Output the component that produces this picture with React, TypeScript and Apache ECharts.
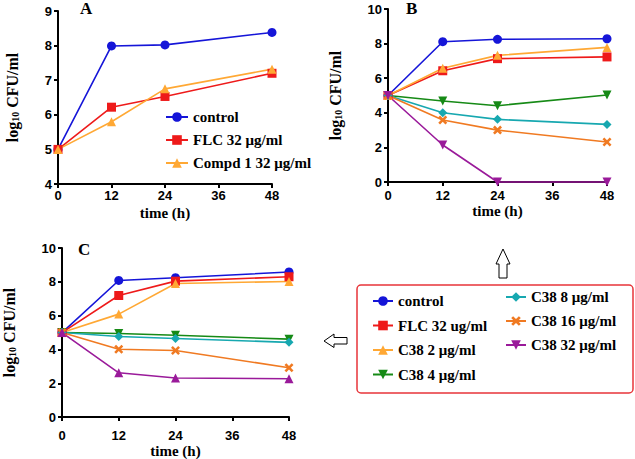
import React, { useEffect, useRef } from "react";
import * as echarts from "echarts";

const HOURS = [0, 12, 24, 48];
const X_TICKS = [0, 12, 24, 36, 48];

// Panel A
const A_CONTROL = [5.0, 7.99, 8.02, 8.38];
const A_FLC = [5.0, 6.22, 6.53, 7.2];
const A_COMPD1 = [5.0, 5.8, 6.75, 7.32];

// Panel B
const B_CONTROL = [5.0, 8.11, 8.25, 8.28];
const B_FLC = [5.0, 6.43, 7.13, 7.23];
const B_C38_2 = [5.0, 6.57, 7.32, 7.78];
const B_C38_4 = [5.0, 4.68, 4.41, 5.03];
const B_C38_8 = [5.0, 4.0, 3.62, 3.33];
const B_C38_16 = [5.0, 3.58, 3.0, 2.31];
const B_C38_32 = [5.0, 2.14, 0.0, 0.0];

// Panel C
const C_CONTROL = [5.0, 8.08, 8.24, 8.58];
const C_FLC = [5.0, 7.19, 8.04, 8.3];
const C_C38_2 = [5.0, 6.09, 7.9, 8.02];
const C_C38_4 = [5.0, 4.94, 4.84, 4.61];
const C_C38_8 = [5.0, 4.77, 4.65, 4.42];
const C_C38_16 = [5.0, 4.01, 3.94, 2.92];
const C_C38_32 = [5.0, 2.62, 2.31, 2.27];

const N_CONTROL = "control";
const N_FLC = "FLC 32 μg/ml";
const N_COMPD1 = "Compd 1 32 μg/ml";
const N_C2 = "C38 2 μg/ml";
const N_C4 = "C38 4 μg/ml";
const N_C8 = "C38 8 μg/ml";
const N_C16 = "C38 16 μg/ml";
const N_C32 = "C38 32 μg/ml";

const SERIF = "'Liberation Serif', 'Times New Roman', serif";
const SANS = "'Liberation Sans', Arial, sans-serif";

const COLORS: Record<string, string> = {
  [N_CONTROL]: "#1515d8",
  [N_FLC]: "#ee1a1a",
  [N_COMPD1]: "#ffa834",
  [N_C2]: "#ffa834",
  [N_C4]: "#168a16",
  [N_C8]: "#17a8b0",
  [N_C16]: "#f07a22",
  [N_C32]: "#9a1a9a",
};

const DOWN_TRI = "path://M0,0 L10,0 L5,9 Z";
const CROSS =
  "path://M0,2 L2,0 L5,3 L8,0 L10,2 L7,5 L10,8 L8,10 L5,7 L2,10 L0,8 L3,5 Z";

const SYMBOLS: Record<string, string> = {
  [N_CONTROL]: "circle",
  [N_FLC]: "rect",
  [N_COMPD1]: "triangle",
  [N_C2]: "triangle",
  [N_C4]: DOWN_TRI,
  [N_C8]: "diamond",
  [N_C16]: CROSS,
  [N_C32]: "triangle",
};

function pairs(vals: number[]) {
  return HOURS.map((h, i) => [h, vals[i]]);
}

function mkSeries(name: string, vals: number[], idx: number, symbol?: string) {
  return {
    type: "line",
    name,
    xAxisIndex: idx,
    yAxisIndex: idx,
    data: pairs(vals),
    symbol: symbol || SYMBOLS[name],
    symbolSize: 9,
    clip: false,
    color: COLORS[name],
    lineStyle: { width: 1.6, color: COLORS[name] },
    itemStyle: { color: COLORS[name] },
  };
}

const axisLineStyle = { color: "#000", width: 2 };

function xAxis(idx: number, labelMargin: number, nameGap: number) {
  return {
    type: "value",
    gridIndex: idx,
    min: 0,
    max: 48,
    interval: 12,
    splitLine: { show: false },
    axisLine: { show: true, lineStyle: axisLineStyle },
    axisTick: { show: true, length: 4, lineStyle: axisLineStyle },
    axisLabel: {
      color: "#000",
      fontFamily: SANS,
      fontWeight: "bold",
      fontSize: 13,
      margin: labelMargin,
      customValues: X_TICKS,
    },
    name: "time (h)",
    nameLocation: "middle",
    nameGap,
    nameTextStyle: {
      color: "#000",
      fontFamily: SERIF,
      fontWeight: "bold",
      fontSize: 15,
    },
  };
}

function yAxis(idx: number, min: number, max: number, interval: number, nameGap: number) {
  return {
    type: "value",
    gridIndex: idx,
    min,
    max,
    interval,
    splitLine: { show: false },
    axisLine: { show: true, onZero: false, lineStyle: axisLineStyle },
    axisTick: { show: true, length: 4, lineStyle: axisLineStyle },
    axisLabel: {
      color: "#000",
      fontFamily: SANS,
      fontWeight: "bold",
      fontSize: 13,
      margin: 6,
    },
    name: "log{sub|10} CFU/ml",
    nameLocation: "middle",
    nameGap,
    nameTextStyle: {
      color: "#000",
      fontFamily: SERIF,
      fontWeight: "bold",
      fontSize: 16,
      rich: {
        sub: {
          fontFamily: SERIF,
          fontWeight: "bold",
          fontSize: 10,
          verticalAlign: "bottom",
          color: "#000",
        },
      },
    },
  };
}

const legendText = {
  color: "#000",
  fontFamily: SERIF,
  fontWeight: "bold",
  fontSize: 15,
  lineHeight: 16,
};

export default function App() {
  const ref = useRef<HTMLDivElement>(null);

  useEffect(() => {
    document.body.style.margin = "0";
    if (!ref.current) return;
    const chart = echarts.init(ref.current, null, { renderer: "svg" });

    const series = [
      mkSeries(N_CONTROL, A_CONTROL, 0),
      mkSeries(N_FLC, A_FLC, 0),
      mkSeries(N_COMPD1, A_COMPD1, 0),

      mkSeries(N_CONTROL, B_CONTROL, 1),
      mkSeries(N_FLC, B_FLC, 1),
      mkSeries(N_C2, B_C38_2, 1),
      mkSeries(N_C4, B_C38_4, 1),
      mkSeries(N_C8, B_C38_8, 1),
      mkSeries(N_C16, B_C38_16, 1),
      mkSeries(N_C32, B_C38_32, 1, DOWN_TRI),

      mkSeries(N_CONTROL, C_CONTROL, 2),
      mkSeries(N_FLC, C_FLC, 2),
      mkSeries(N_C2, C_C38_2, 2),
      mkSeries(N_C4, C_C38_4, 2),
      mkSeries(N_C8, C_C38_8, 2),
      mkSeries(N_C16, C_C38_16, 2),
      mkSeries(N_C32, C_C38_32, 2),
    ];

    const option: any = {
      animation: false,
      backgroundColor: "#fff",
      grid: [
        { left: 58, top: 11, width: 214, height: 173 },
        { left: 388, top: 9, width: 219, height: 173 },
        { left: 59, top: 248, width: 230, height: 172 },
      ],
      xAxis: [xAxis(0, 5, 21), xAxis(1, 7, 21), xAxis(2, 12, 22)],
      yAxis: [
        yAxis(0, 4, 9, 1, 38),
        yAxis(1, 0, 10, 2, 45),
        yAxis(2, 0, 10, 2, 45),
      ],
      legend: [
        {
          data: [N_CONTROL, N_FLC, N_COMPD1],
          orient: "vertical",
          left: 160,
          top: 104,
          itemWidth: 22,
          itemHeight: 12,
          itemGap: 7,
          textStyle: legendText,
          selectedMode: false,
        },
        {
          data: [N_CONTROL, N_FLC, N_C2, N_C4],
          orient: "vertical",
          left: 367,
          top: 288,
          itemWidth: 20,
          itemHeight: 12,
          itemGap: 8.5,
          textStyle: legendText,
          selectedMode: false,
          formatter: (n: string) => (n === N_FLC ? "FLC 32 ug/ml" : n),
        },
        {
          data: [N_C8, N_C16, N_C32],
          orient: "vertical",
          left: 500,
          top: 284,
          itemWidth: 20,
          itemHeight: 12,
          itemGap: 8,
          textStyle: legendText,
          selectedMode: false,
        },
      ],
      graphic: [
        {
          type: "text",
          left: 80,
          top: 0,
          style: { text: "A", fill: "#000", font: `bold 17px ${SERIF}` },
        },
        {
          type: "text",
          left: 406,
          top: 0,
          style: { text: "B", fill: "#000", font: `bold 17px ${SERIF}` },
        },
        {
          type: "text",
          left: 78,
          top: 241,
          style: { text: "C", fill: "#000", font: `bold 17px ${SERIF}` },
        },
        {
          type: "rect",
          shape: { x: 357, y: 285, width: 276, height: 108, r: 4 },
          style: { fill: "none", stroke: "#e8353a", lineWidth: 1.5 },
          z: 0,
        },
        {
          type: "polygon",
          shape: {
            points: [
              [503, 249],
              [510, 264],
              [507, 264],
              [507, 278],
              [499, 278],
              [499, 264],
              [496, 264],
            ],
          },
          style: { fill: "#fff", stroke: "#000", lineWidth: 1 },
        },
        {
          type: "polygon",
          shape: {
            points: [
              [324, 341],
              [334, 334],
              [334, 337.5],
              [347, 337.5],
              [347, 344],
              [334, 344],
              [334, 347.5],
            ],
          },
          style: { fill: "#fff", stroke: "#000", lineWidth: 1 },
        },
      ],
      series,
    };

    chart.setOption(option);
    return () => chart.dispose();
  }, []);

  return <div ref={ref} style={{ width: 635, height: 459, background: "#fff" }} />;
}
